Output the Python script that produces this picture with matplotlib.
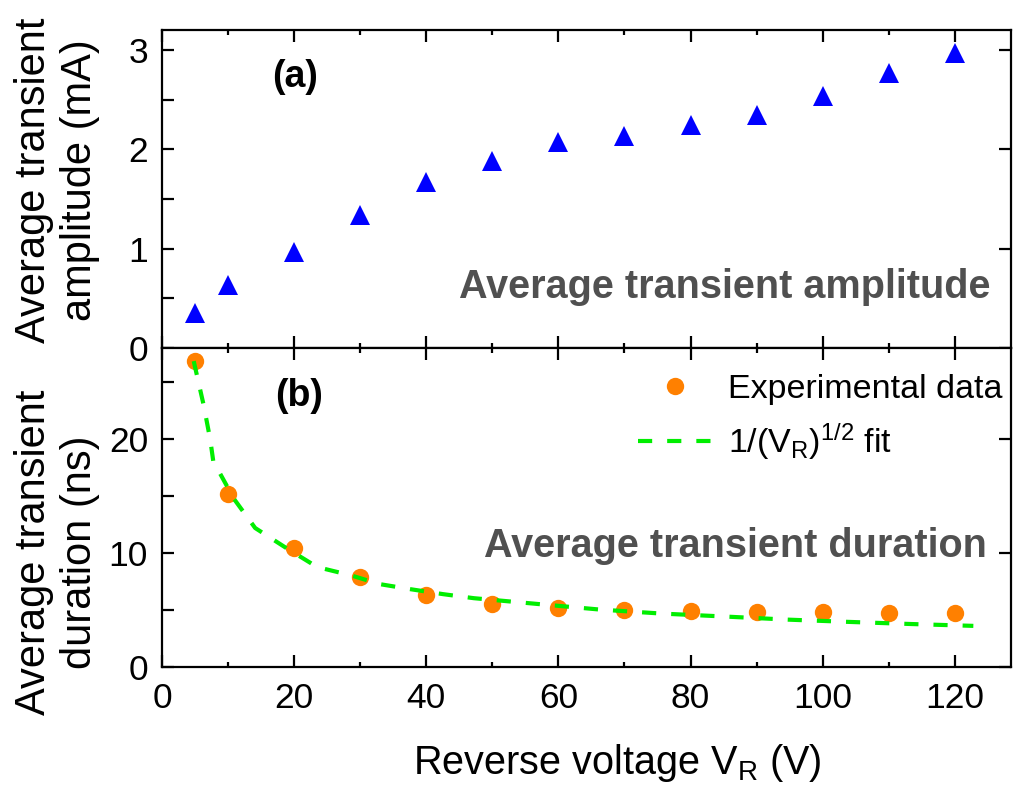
import matplotlib
matplotlib.use("Agg")
import matplotlib.pyplot as plt
from matplotlib.ticker import MultipleLocator

plt.rcParams['font.family'] = ['Liberation Sans', 'DejaVu Sans']
plt.rcParams['mathtext.fontset'] = 'custom'
plt.rcParams['mathtext.rm'] = 'Liberation Sans'
plt.rcParams['mathtext.it'] = 'Liberation Sans:italic'

# ---- data ----
voltage = [5, 10, 20, 30, 40, 50, 60, 70, 80, 90, 100, 110, 120]
amplitude_mA = [0.35, 0.63, 0.965, 1.34, 1.67, 1.88, 2.07, 2.13, 2.245, 2.34, 2.54, 2.77, 2.97]
duration_ns = [26.85, 15.2, 10.44, 7.89, 6.33, 5.54, 5.16, 5.04, 4.93, 4.87, 4.81, 4.72, 4.72]
fit_v = [4.8, 6.3, 7.3, 7.8, 8.6, 10.9, 14.1, 18.9, 23.5, 28.5, 33.0, 37.6, 42.6, 47.2,
         56.7, 66.3, 75.6, 85.2, 94.6, 103.9, 113.5, 122.8]
fit_ns = [26.85, 23.0, 19.96, 17.9, 17.18, 14.75, 12.2, 10.41, 8.77, 8.06, 7.27, 6.83, 6.39, 6.04,
          5.54, 5.04, 4.69, 4.43, 4.16, 3.96, 3.77, 3.61]

W, H = 1013, 790
fig = plt.figure(figsize=(W / 100, H / 100), dpi=100)
L, R = 162 / W, 1011 / W
ax1 = fig.add_axes([L, 1 - 348 / H, R - L, (348 - 30) / H])
ax2 = fig.add_axes([L, 1 - 667 / H, R - L, (667 - 348) / H], sharex=ax1)

tick_fs = 25.5
for ax in (ax1, ax2):
    for sp in ax.spines.values():
        sp.set_linewidth(1.6)
    ax.tick_params(which='both', direction='in', top=True, width=1.6, labelsize=tick_fs)
    ax.tick_params(which='major', length=8.5, right=True, labelright=False)
    ax.tick_params(axis='y', which='minor', length=8.5, right=False)
    ax.tick_params(axis='x', which='minor', length=3.5)
    ax.tick_params(axis='x', which='major', pad=11)
    ax.tick_params(axis='y', which='major', pad=10)
    ax.xaxis.set_major_locator(MultipleLocator(20))
    ax.xaxis.set_minor_locator(MultipleLocator(10))

ax1.set_xlim(0, 128.5)
ax1.set_ylim(0, 3.2)
ax1.yaxis.set_major_locator(MultipleLocator(1))
ax1.yaxis.set_minor_locator(MultipleLocator(0.5))
ax1.tick_params(axis='x', labelbottom=False)

ax2.set_ylim(0, 28)
ax2.yaxis.set_major_locator(MultipleLocator(10))
ax2.yaxis.set_minor_locator(MultipleLocator(5))

ax1.plot(voltage, amplitude_mA, linestyle='none', marker='^', markersize=14.5,
         color='#0000FF', markeredgewidth=0)
ax2.plot(voltage, duration_ns, linestyle='none', marker='o', markersize=12.5,
         color='#FF8000', markeredgewidth=0, label='Experimental data', zorder=2)
ax2.plot(fit_v, fit_ns, linestyle=(0, (3.4, 3.6)), color='#00EE00', linewidth=3,
         label=r'1/(V$_\mathregular{R}$)$^\mathregular{1/2}$ fit', zorder=3)

fig.text(295 / W, 1 - 77 / H, '(a)', fontsize=27, fontweight='bold', ha='center', va='center')
fig.text(299 / W, 1 - 396 / H, '(b)', fontsize=27, fontweight='bold', ha='center', va='center')
fig.text(990 / W, 1 - 298 / H, 'Average transient amplitude', fontsize=28.5, fontweight='bold',
         color='#505050', ha='right', va='baseline')
fig.text(987 / W, 1 - 557 / H, 'Average transient duration', fontsize=28.5, fontweight='bold',
         color='#505050', ha='right', va='baseline')

ax1.set_ylabel('Average transient\namplitude (mA)', fontsize=30)
ax1.yaxis.set_label_coords((100 - 162) / 849, (348 - 180) / 318)
ax2.set_ylabel('Average transient\nduration (ns)', fontsize=30)
ax2.yaxis.set_label_coords((100 - 162) / 849, (667 - 552) / 319)
ax2.set_xlabel(r'Reverse voltage V$_\mathregular{R}$ (V)', fontsize=28.5)
ax2.xaxis.set_label_coords((617.5 - 162) / 849, (667 - 742) / 319)

leg = ax2.legend(loc='upper left', bbox_to_anchor=(638 / W, 1 - 374 / H),
                 bbox_transform=fig.transFigure, frameon=False, fontsize=24.5,
                 handlelength=2.2, handletextpad=0.45, labelspacing=0.47,
                 borderpad=0, borderaxespad=0)

fig.savefig('out.png', dpi=100)
